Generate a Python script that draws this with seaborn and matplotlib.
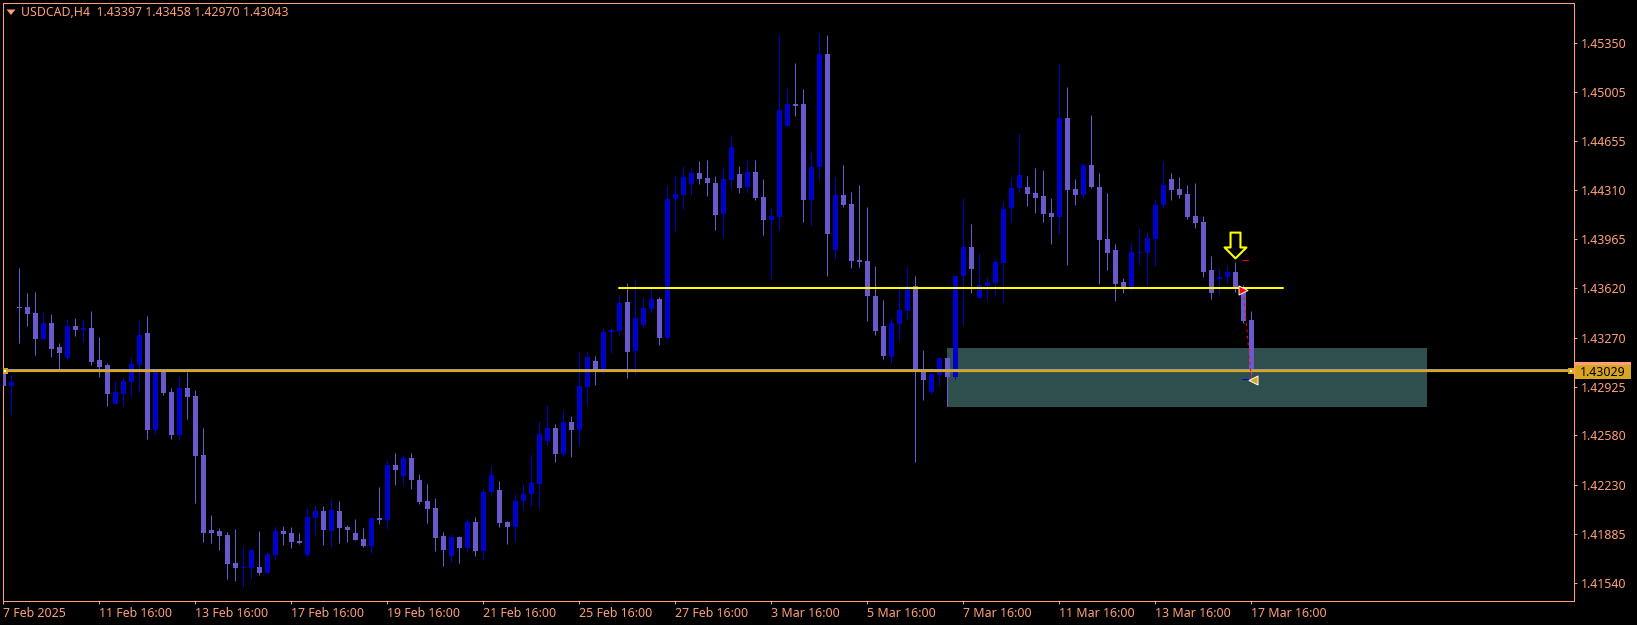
import numpy as np
import pandas as pd
import matplotlib
matplotlib.use("Agg")
import matplotlib.pyplot as plt
from matplotlib.path import Path
from matplotlib.patches import Rectangle, Polygon
import seaborn as sns

# ---- data (USDCAD H4, one entry per candle) ----
opens = [1.43051,1.42927,1.43488,1.43484,1.43441,1.43258,1.43371,1.43202,1.43124,1.43350,
1.43322,1.43336,1.43110,1.43075,1.42800,1.42870,1.42955,1.43075,1.43300,1.42617,
1.43040,1.42884,1.42581,1.42913,1.42856,1.42440,1.41912,1.41904,1.41876,1.41679,
1.41644,1.41644,1.41651,1.41608,1.41735,1.41904,1.41890,1.41834,1.41735,1.41996,
1.42045,1.41904,1.42045,1.41933,1.41890,1.41848,1.41799,1.41996,1.41982,1.42370,
1.42292,1.42419,1.42264,1.42116,1.42067,1.41869,1.41728,1.41862,1.41785,1.41968,
1.41763,1.42179,1.42194,1.41968,1.41933,1.42116,1.42165,1.42236,1.42539,1.42631,
1.42447,1.42673,1.42617,1.42920,1.43103,1.43040,1.43307,1.43314,1.43519,1.43173,
1.43357,1.43470,1.43540,1.43265,1.44252,1.44280,1.44358,1.44435,1.44400,1.44365,
1.44146,1.44386,1.44428,1.44337,1.44442,1.44266,1.44104,1.44125,1.44767,1.44922,
1.44922,1.44245,1.44478,1.45274,1.43886,1.44280,1.44217,1.43815,1.43808,1.43561,
1.43350,1.43131,1.43364,1.43455,1.43632,1.43040,1.42884,1.43004,1.43124,1.42990,
1.43702,1.43907,1.43547,1.43632,1.43653,1.43794,1.44182,1.44323,1.44337,1.44294,
1.44273,1.44153,1.44125,1.44823,1.44316,1.44280,1.44492,1.44337,1.43963,1.43886,
1.43660,1.43625,1.43871,1.43871,1.43970,1.44203,1.44393,1.44316,1.44287,1.44132,
1.44083,1.43745,1.43681,1.43695,1.43730,1.43611,1.43397]
closes = [1.42927,1.42955,1.43481,1.43434,1.43258,1.43371,1.43188,1.43159,1.43350,1.43322,
1.43336,1.43096,1.43061,1.42870,1.42884,1.42962,1.43082,1.43286,1.42617,1.43040,
1.42877,1.42581,1.42913,1.42849,1.42433,1.41890,1.41890,1.41869,1.41672,1.41644,
1.41651,1.41770,1.41608,1.41742,1.41904,1.41883,1.41827,1.41820,1.42003,1.42045,
1.41912,1.42053,1.41926,1.41912,1.41841,1.41799,1.41996,1.41982,1.42370,1.42335,
1.42419,1.42264,1.42109,1.42060,1.41855,1.41770,1.41862,1.41785,1.41968,1.41763,
1.42179,1.42299,1.41961,1.41933,1.42116,1.42165,1.42243,1.42588,1.42631,1.42447,
1.42673,1.42617,1.42927,1.43131,1.43040,1.43307,1.43322,1.43512,1.43166,1.43406,
1.43477,1.43540,1.43265,1.44252,1.44287,1.44407,1.44435,1.44393,1.44365,1.44139,
1.44393,1.44619,1.44330,1.44442,1.44259,1.44104,1.44132,1.44880,1.44922,1.44908,
1.44245,1.44478,1.45274,1.44005,1.44280,1.44210,1.43808,1.43801,1.43561,1.43314,
1.43138,1.43371,1.43463,1.43632,1.43040,1.42969,1.43011,1.43124,1.42990,1.43707,
1.43907,1.43752,1.43639,1.43660,1.43801,1.44175,1.44330,1.44421,1.44287,1.44259,
1.44146,1.44125,1.44823,1.44309,1.44280,1.44492,1.44337,1.43956,1.43871,1.43646,
1.43625,1.43878,1.43878,1.43977,1.44210,1.44351,1.44309,1.44280,1.44125,1.44076,
1.43730,1.43582,1.43695,1.43730,1.43611,1.43385,1.43043]
highs = [1.43392,1.43011,1.43759,1.43582,1.43589,1.43448,1.43434,1.43230,1.43399,1.43406,
1.43399,1.43455,1.43272,1.43089,1.42962,1.42983,1.43131,1.43392,1.43420,1.43047,
1.43045,1.42913,1.42997,1.43025,1.42899,1.42631,1.42017,1.41926,1.41897,1.41919,
1.41792,1.41778,1.41904,1.41756,1.41940,1.41940,1.41933,1.41890,1.42067,1.42088,
1.42081,1.42130,1.42116,1.41947,1.41989,1.41926,1.42003,1.42215,1.42405,1.42454,
1.42440,1.42454,1.42306,1.42236,1.42137,1.41897,1.41883,1.41869,1.41996,1.42003,
1.42201,1.42363,1.42257,1.41975,1.42165,1.42236,1.42447,1.42680,1.42793,1.42659,
1.42750,1.42715,1.43166,1.43166,1.43138,1.43329,1.43336,1.43568,1.43653,1.43681,
1.43547,1.43632,1.43554,1.44344,1.44421,1.44485,1.44471,1.44520,1.44527,1.44414,
1.44478,1.44696,1.44485,1.44527,1.44527,1.44393,1.44189,1.45408,1.45035,1.45211,
1.45028,1.44591,1.45422,1.45408,1.44407,1.44492,1.44301,1.44351,1.44189,1.43773,
1.43533,1.43406,1.43611,1.43766,1.43702,1.43181,1.43054,1.43131,1.43124,1.43707,
1.44259,1.44069,1.43871,1.43695,1.43822,1.44231,1.44400,1.44717,1.44414,1.44471,
1.44457,1.44259,1.45204,1.45042,1.44393,1.44506,1.44844,1.44435,1.44294,1.43928,
1.43688,1.43935,1.44041,1.44019,1.44252,1.44513,1.44435,1.44407,1.44351,1.44365,
1.44132,1.43843,1.43759,1.43780,1.43801,1.43639,1.43458]
lows = [1.42793,1.42729,1.43230,1.43350,1.43145,1.43258,1.43131,1.43040,1.43117,1.43279,
1.43237,1.43075,1.42990,1.42786,1.42800,1.42786,1.42856,1.42884,1.42553,1.42588,
1.42863,1.42553,1.42546,1.42694,1.42102,1.41827,1.41820,1.41770,1.41566,1.41552,
1.41510,1.41566,1.41594,1.41608,1.41707,1.41806,1.41785,1.41813,1.41728,1.41876,
1.41806,1.41792,1.41820,1.41827,1.41841,1.41792,1.41749,1.41954,1.41919,1.42229,
1.42236,1.42201,1.42095,1.41961,1.41763,1.41658,1.41686,1.41679,1.41763,1.41728,
1.41700,1.42165,1.41933,1.41813,1.41834,1.42060,1.42081,1.42067,1.42511,1.42391,
1.42433,1.42426,1.42511,1.42793,1.42934,1.43011,1.43159,1.43286,1.42983,1.43004,
1.43343,1.43441,1.43216,1.43251,1.44019,1.44175,1.44280,1.44358,1.44273,1.44027,
1.43984,1.44323,1.44294,1.44294,1.44245,1.43998,1.43681,1.44027,1.44767,1.44837,
1.44083,1.44055,1.44386,1.43702,1.43822,1.44189,1.43759,1.43766,1.43385,1.43286,
1.43117,1.43089,1.43251,1.43399,1.42391,1.42828,1.42870,1.42927,1.42786,1.42976,
1.43357,1.43582,1.43547,1.43533,1.43561,1.43519,1.44083,1.44294,1.44196,1.44153,
1.44090,1.43928,1.44005,1.43780,1.44210,1.44259,1.44323,1.43646,1.43745,1.43526,
1.43582,1.43596,1.43780,1.43639,1.43773,1.44182,1.44245,1.44259,1.44111,1.44041,
1.43695,1.43540,1.43568,1.43653,1.43589,1.43371,1.42970]

price_ticks = [1.45350,1.45005,1.44655,1.44310,1.43965,1.43620,1.43270,1.42925,1.42580,1.42230,1.41885,1.41540]
date_labels = ["7 Feb 2025","11 Feb 16:00","13 Feb 16:00","17 Feb 16:00","19 Feb 16:00","21 Feb 16:00",
               "25 Feb 16:00","27 Feb 16:00","3 Mar 16:00","5 Mar 16:00","7 Mar 16:00","11 Mar 16:00",
               "13 Mar 16:00","17 Mar 16:00"]
date_positions = [12 * k for k in range(len(date_labels))]
header = "USDCAD,H4  1.43397 1.43458 1.42970 1.43043"
bid_label = "1.43029"
bid_price = 1.43033
ask_price = 1.43047
level_price = 1.43620
zone_low, zone_high = 1.42781, 1.43195
zone_start, zone_end = 118, 178
level_start, level_end = 77, 160
signal_candle = 154
signal_price = 1.43921
entry_candle, entry_price = 155, 1.43603
exit_candle, exit_price = 156, 1.42981
stop_price, target_price = 1.43815, 1.42981
exit_mark_pos, exit_mark_price = 156.2, 1.42973

# ---- style ----
W, H = 1637, 625
BG = "#000000"; FG = "#FFA07A"; UP = "#0000CD"; DOWN = "#6A5ACD"
GOLD = "#DAA520"; YEL = "#FFFF00"; ZONE = "#2F4F4F"
PX = 0.72  # one pixel in points at dpi 100

sns.set_theme(style="dark", rc={"axes.facecolor": BG, "figure.facecolor": BG, "axes.grid": False})
plt.rcParams["font.family"] = ["Noto Sans", "DejaVu Sans"]
FS = 8.9

df = pd.DataFrame({"i": np.arange(len(opens)), "open": opens, "high": highs, "low": lows, "close": closes})
df["top"] = df[["open", "close"]].max(axis=1)
df["bottom"] = df[["open", "close"]].min(axis=1)
df["height"] = df["top"] - df["bottom"]
df["up"] = df["close"] >= df["open"]

fig = plt.figure(figsize=(W / 100, H / 100), dpi=100, facecolor=BG)
ax = fig.add_axes([2.5 / W, 1 - 601 / H, (1573.7 - 2.5) / W, (601 - 2.5) / H], facecolor=BG)

ax.add_patch(Rectangle((zone_start, zone_low), zone_end - zone_start, zone_high - zone_low,
                       facecolor=ZONE, edgecolor="none", zorder=1))

for is_up, colour in [(False, DOWN), (True, UP)]:
    part = df[df["up"] == is_up].sort_values("i")
    ax.vlines(part["i"], part["low"], part["high"], color=colour, linewidth=PX, zorder=2)
    sns.barplot(data=part, x="i", y="height", bottom=part["bottom"].to_numpy(), native_scale=True,
                color=colour, saturation=1, errorbar=None, width=0.6, linewidth=0, ax=ax, zorder=3)

# levels
sns.lineplot(x=[level_start, level_end], y=[level_price, level_price], color=YEL, linewidth=2 * PX, ax=ax, zorder=5)
ax.axhline(ask_price, color="#9A9A9A", linewidth=PX, zorder=5)
ax.axhline(bid_price, color=GOLD, linewidth=2.2 * PX, zorder=6)
ax.scatter([0.2, 195.9], [bid_price, bid_price], marker="s", s=19, color=GOLD, linewidths=0, zorder=7)
ax.scatter([0.2, 195.9], [bid_price, bid_price], marker="s", s=2, color="white", linewidths=0, zorder=8)

# trade objects
ax.plot([entry_candle, exit_candle], [entry_price, exit_price], color="#FF0000", linewidth=PX,
        linestyle=(0, (3, 3.5)), zorder=9)
ax.plot([entry_candle - 0.2, entry_candle + 0.6], [stop_price, stop_price], color="#FF0000", linewidth=PX, zorder=7)
ax.plot([entry_candle - 0.2, entry_candle + 0.6], [target_price, target_price], color=UP, linewidth=PX, zorder=7)
ax.scatter([entry_candle], [entry_price], marker=">", s=42, facecolor="#FF0000", edgecolor="white", linewidths=0.7, zorder=10)
ax.scatter([exit_mark_pos], [exit_mark_price], marker="<", s=42, facecolor=GOLD, edgecolor="white", linewidths=0.7, zorder=10)

arrow = Path(np.array([(-5, 13), (5, 13), (5, -2), (11, -2), (0, -13), (-11, -2), (-5, -2), (-5, 13)], float), closed=True)
ax.scatter([signal_candle], [signal_price], marker=arrow, s=345, facecolor=BG, edgecolor=YEL, linewidths=1.5, zorder=10)

# axes
ax.set_xlim(-0.1, 196.3)
ax.set_ylim(1.41411, 1.45636)
ax.set_xlabel(""); ax.set_ylabel("")
ax.yaxis.tick_right()
ax.set_yticks(price_ticks)
ax.set_yticklabels([f"{p:.5f}" for p in price_ticks])
ax.set_xticks(date_positions)
ax.set_xticklabels(date_labels, ha="left")
ax.tick_params(axis="both", which="major", colors=FG, labelcolor=FG, length=2.4, width=PX, labelsize=FS,
               bottom=True, right=True, left=False, top=False)
ax.tick_params(axis="y", pad=3)
ax.tick_params(axis="x", pad=2.2)
for s in ax.spines.values():
    s.set_color(FG); s.set_linewidth(PX); s.set_visible(True)

# header and current price box
fig.text(21 / W, 1 - 12.5 / H, header, color=FG, fontsize=FS, va="center", ha="left")
fig.add_artist(Polygon([(6.5 / W, 1 - 9.5 / H), (15.5 / W, 1 - 9.5 / H), (11 / W, 1 - 15 / H)],
                       closed=True, facecolor=FG, edgecolor="none", transform=fig.transFigure))
fig.add_artist(Rectangle((1575 / W, 1 - 365 / H), 56 / W, 3 / H, facecolor=FG, edgecolor="none", transform=fig.transFigure))
fig.add_artist(Rectangle((1575 / W, 1 - 378.7 / H), 56 / W, 13.7 / H, facecolor=GOLD, edgecolor="none", transform=fig.transFigure))
fig.text(1580.3 / W, 1 - 372 / H, bid_label, color="black", fontsize=FS, va="center", ha="left")

fig.savefig("out.png", dpi=100, facecolor=BG)
